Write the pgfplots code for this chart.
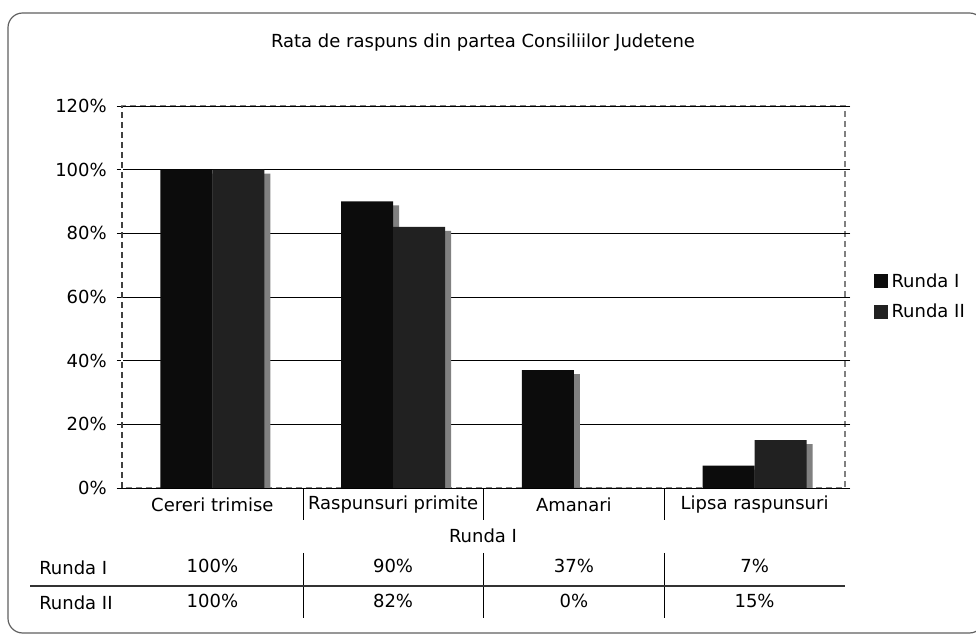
\documentclass[border=0pt]{standalone}
\usepackage{pgfplots}
\pgfplotsset{compat=1.18}
\usepackage{fontspec}
\setmainfont{DejaVu Sans}
\definecolor{rI}{HTML}{0C0C0C}
\definecolor{rII}{HTML}{212121}
\definecolor{shd}{HTML}{808080}
\definecolor{frm}{HTML}{606060}
\begin{document}
\fontsize{13.5}{16}\selectfont
\begin{tikzpicture}[x=0.75pt,y=0.75pt]
\useasboundingbox (0,0) rectangle (976,634);
\begin{scope}
\clip (0,0) rectangle (976,634);
\draw[frm, line width=0.9pt, rounded corners=11pt] (8,1) rectangle (984,621);
\end{scope}
\node at (483,591) {Rata de raspuns din partea Consiliilor Judetene};
\begin{axis}[
  at={(91.5pt,109.5pt)}, anchor=south west,
  scale only axis, width=542.25pt, height=286.5pt,
  xmin=-0.5, xmax=3.5, ymin=0, ymax=120,
  ybar, bar width=39pt,
  axis line style={draw=shd, line width=1.5pt, dash pattern=on 4.5pt off 3pt},
  xtick={0,1,2,3},
  xticklabels={Cereri trimise,Raspunsuri primite,Amanari,Lipsa raspunsuri},
  xtick style={draw=none},
  xticklabel style={anchor=center, yshift=-9pt},
  ytick={0,20,...,120},
  ytick style={draw=black, line width=0.6pt},
  tick align=outside, major tick length=3.75pt,
  /pgf/number format/assume math mode=true,
  yticklabel={\pgfmathprintnumber{\tick}\%},
  yticklabel style={anchor=east, inner sep=0pt, xshift=-7.5pt},
  extra y ticks={0,20,40,60,80,100,120},
  extra y tick labels={},
  extra y tick style={grid=major, major grid style={draw=black, line width=0.6pt, solid}},
  legend style={at={(axis description cs:1.040,0.5)}, anchor=west, draw=none, fill=none,
    font=\fontsize{13.5}{16}\selectfont, row sep=8.5pt, column sep=1.5pt, inner sep=0pt,
    nodes={inner sep=1pt}},
  legend cell align=left,
  legend image code/.code={\fill[#1] (0pt,-5pt) rectangle (10.5pt,5.5pt);},
]
\addplot[fill=shd, draw=none, bar shift=-15pt, yshift=-3pt, forget plot]
  coordinates {(0,100) (1,90) (2,37) (3,7)};
\addplot[fill=rI, draw=none, bar shift=-19.5pt]
  coordinates {(0,100) (1,90) (2,37) (3,7)};
\addlegendentry{Runda I}
\addplot[fill=shd, draw=none, bar shift=24pt, yshift=-3pt, forget plot]
  coordinates {(0,100) (1,82) (2,0) (3,15)};
\addplot[fill=rII, draw=none, bar shift=19.5pt]
  coordinates {(0,100) (1,82) (2,0) (3,15)};
\addlegendentry{Runda II}
\end{axis}
% left axis line darker dashes
\fill[white] (120.8,146) rectangle (123.2,528);
\draw[black!75, line width=1.1pt, dash pattern=on 4.5pt off 3pt] (122,146) -- (122,528);
% category separators
\foreach \x in {303,483,664} {
  \draw[black, line width=0.6pt] (\x,146) -- (\x,114);
  \draw[black, line width=0.6pt] (\x,81) -- (\x,16);
}
\node at (483,98) {Runda I};
\draw[black!80, line width=0.8pt] (30,48) -- (845,48);
\node[anchor=west] at (33,66) {Runda I};
\node[anchor=west] at (33,31) {Runda II};
\node at (212.4,68) {100\%};
\node at (393.1,68) {90\%};
\node at (573.9,68) {37\%};
\node at (754.6,68) {7\%};
\node at (212.4,33) {100\%};
\node at (393.1,33) {82\%};
\node at (573.9,33) {0\%};
\node at (754.6,33) {15\%};
\end{tikzpicture}
\end{document}
